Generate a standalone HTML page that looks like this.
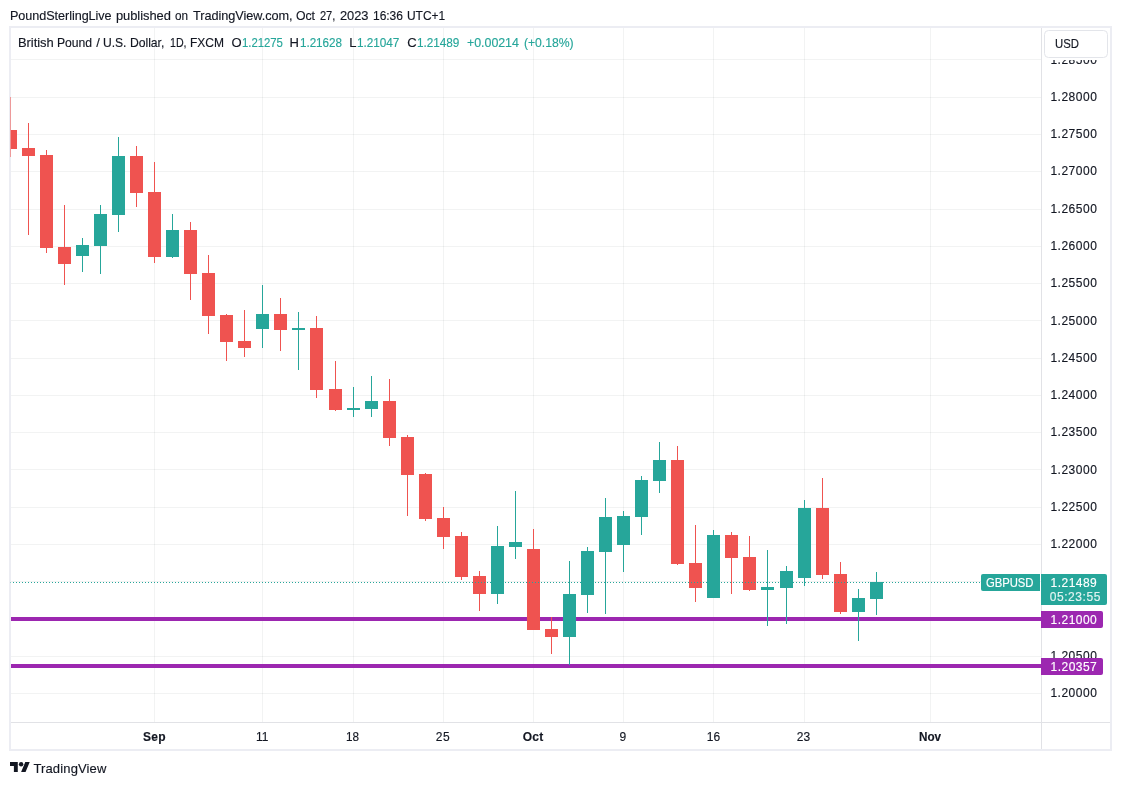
<!DOCTYPE html>
<html><head><meta charset="utf-8"><title>GBPUSD</title>
<style>
html,body{margin:0;padding:0;background:#fff;}
body{width:1121px;height:785px;position:relative;overflow:hidden;font-family:"Liberation Sans",sans-serif;color:#131722;}
.abs{position:absolute;white-space:nowrap;}
.w{position:absolute;white-space:nowrap;line-height:16px;transform-origin:0 0;-webkit-text-stroke:0.15px;}
#frame{left:9px;top:26px;width:1099px;height:721px;border:2px solid #ecedf3;}
#clip{left:10px;top:28px;width:1100px;height:721px;overflow:hidden;}
#svg{position:absolute;left:-10px;top:-28px;}
#paxis{left:1041px;top:28px;width:1px;height:721px;background:#e1e2e6;}
#taxis{left:11px;top:722px;width:1099px;height:1px;background:#e1e2e6;}
#usd{left:1044.4px;top:30.2px;width:61.2px;height:25.5px;border:1px solid #e3e5ea;border-radius:4.5px;background:#fff;}
#usdbg{left:1042px;top:28px;width:68px;height:32.4px;background:#fff;}
.tag{position:absolute;}
#logo{left:10px;top:762px;}
</style></head><body>
<div id="clip" class="abs"><svg id="svg" width="1121" height="785" viewBox="0 0 1121 785" shape-rendering="crispEdges">
<rect x="11" y="693" width="1030" height="1" fill="rgba(42,46,57,0.06)"/>
<rect x="11" y="656" width="1030" height="1" fill="rgba(42,46,57,0.06)"/>
<rect x="11" y="619" width="1030" height="1" fill="rgba(42,46,57,0.06)"/>
<rect x="11" y="581" width="1030" height="1" fill="rgba(42,46,57,0.06)"/>
<rect x="11" y="544" width="1030" height="1" fill="rgba(42,46,57,0.06)"/>
<rect x="11" y="507" width="1030" height="1" fill="rgba(42,46,57,0.06)"/>
<rect x="11" y="469" width="1030" height="1" fill="rgba(42,46,57,0.06)"/>
<rect x="11" y="432" width="1030" height="1" fill="rgba(42,46,57,0.06)"/>
<rect x="11" y="395" width="1030" height="1" fill="rgba(42,46,57,0.06)"/>
<rect x="11" y="358" width="1030" height="1" fill="rgba(42,46,57,0.06)"/>
<rect x="11" y="320" width="1030" height="1" fill="rgba(42,46,57,0.06)"/>
<rect x="11" y="283" width="1030" height="1" fill="rgba(42,46,57,0.06)"/>
<rect x="11" y="246" width="1030" height="1" fill="rgba(42,46,57,0.06)"/>
<rect x="11" y="209" width="1030" height="1" fill="rgba(42,46,57,0.06)"/>
<rect x="11" y="171" width="1030" height="1" fill="rgba(42,46,57,0.06)"/>
<rect x="11" y="134" width="1030" height="1" fill="rgba(42,46,57,0.06)"/>
<rect x="11" y="97" width="1030" height="1" fill="rgba(42,46,57,0.06)"/>
<rect x="11" y="59" width="1030" height="1" fill="rgba(42,46,57,0.06)"/>
<rect x="154" y="28" width="1" height="694" fill="rgba(42,46,57,0.06)"/>
<rect x="262" y="28" width="1" height="694" fill="rgba(42,46,57,0.06)"/>
<rect x="353" y="28" width="1" height="694" fill="rgba(42,46,57,0.06)"/>
<rect x="443" y="28" width="1" height="694" fill="rgba(42,46,57,0.06)"/>
<rect x="533" y="28" width="1" height="694" fill="rgba(42,46,57,0.06)"/>
<rect x="623" y="28" width="1" height="694" fill="rgba(42,46,57,0.06)"/>
<rect x="713" y="28" width="1" height="694" fill="rgba(42,46,57,0.06)"/>
<rect x="804" y="28" width="1" height="694" fill="rgba(42,46,57,0.06)"/>
<rect x="930" y="28" width="1" height="694" fill="rgba(42,46,57,0.06)"/>
<rect x="11" y="617" width="1031" height="4" fill="#9c27b0"/>
<rect x="11" y="664" width="1031" height="4" fill="#9c27b0"/>
<rect x="10" y="97" width="1" height="60" fill="#ef5350"/>
<rect x="4" y="130" width="13" height="19" fill="#ef5350"/>
<rect x="28" y="123" width="1" height="112" fill="#ef5350"/>
<rect x="22" y="148" width="13" height="8" fill="#ef5350"/>
<rect x="46" y="150" width="1" height="103" fill="#ef5350"/>
<rect x="40" y="155" width="13" height="93" fill="#ef5350"/>
<rect x="64" y="205" width="1" height="80" fill="#ef5350"/>
<rect x="58" y="247" width="13" height="17" fill="#ef5350"/>
<rect x="82" y="238" width="1" height="34" fill="#26a69a"/>
<rect x="76" y="245" width="13" height="11" fill="#26a69a"/>
<rect x="100" y="205" width="1" height="69" fill="#26a69a"/>
<rect x="94" y="214" width="13" height="32" fill="#26a69a"/>
<rect x="118" y="137" width="1" height="95" fill="#26a69a"/>
<rect x="112" y="156" width="13" height="59" fill="#26a69a"/>
<rect x="136" y="146" width="1" height="61" fill="#ef5350"/>
<rect x="130" y="156" width="13" height="37" fill="#ef5350"/>
<rect x="154" y="162" width="1" height="101" fill="#ef5350"/>
<rect x="148" y="192" width="13" height="65" fill="#ef5350"/>
<rect x="172" y="214" width="1" height="44" fill="#26a69a"/>
<rect x="166" y="230" width="13" height="27" fill="#26a69a"/>
<rect x="190" y="222" width="1" height="78" fill="#ef5350"/>
<rect x="184" y="230" width="13" height="44" fill="#ef5350"/>
<rect x="208" y="255" width="1" height="79" fill="#ef5350"/>
<rect x="202" y="273" width="13" height="43" fill="#ef5350"/>
<rect x="226" y="314" width="1" height="47" fill="#ef5350"/>
<rect x="220" y="315" width="13" height="27" fill="#ef5350"/>
<rect x="244" y="310" width="1" height="47" fill="#ef5350"/>
<rect x="238" y="341" width="13" height="7" fill="#ef5350"/>
<rect x="262" y="285" width="1" height="63" fill="#26a69a"/>
<rect x="256" y="314" width="13" height="15" fill="#26a69a"/>
<rect x="280" y="298" width="1" height="53" fill="#ef5350"/>
<rect x="274" y="314" width="13" height="16" fill="#ef5350"/>
<rect x="298" y="312" width="1" height="58" fill="#26a69a"/>
<rect x="292" y="328" width="13" height="2" fill="#26a69a"/>
<rect x="316" y="316" width="1" height="82" fill="#ef5350"/>
<rect x="310" y="328" width="13" height="62" fill="#ef5350"/>
<rect x="335" y="361" width="1" height="50" fill="#ef5350"/>
<rect x="329" y="389" width="13" height="21" fill="#ef5350"/>
<rect x="353" y="387" width="1" height="30" fill="#26a69a"/>
<rect x="347" y="408" width="13" height="2" fill="#26a69a"/>
<rect x="371" y="376" width="1" height="41" fill="#26a69a"/>
<rect x="365" y="401" width="13" height="8" fill="#26a69a"/>
<rect x="389" y="379" width="1" height="67" fill="#ef5350"/>
<rect x="383" y="401" width="13" height="37" fill="#ef5350"/>
<rect x="407" y="435" width="1" height="81" fill="#ef5350"/>
<rect x="401" y="437" width="13" height="38" fill="#ef5350"/>
<rect x="425" y="473" width="1" height="48" fill="#ef5350"/>
<rect x="419" y="474" width="13" height="45" fill="#ef5350"/>
<rect x="443" y="507" width="1" height="42" fill="#ef5350"/>
<rect x="437" y="518" width="13" height="19" fill="#ef5350"/>
<rect x="461" y="532" width="1" height="48" fill="#ef5350"/>
<rect x="455" y="536" width="13" height="41" fill="#ef5350"/>
<rect x="479" y="571" width="1" height="40" fill="#ef5350"/>
<rect x="473" y="576" width="13" height="18" fill="#ef5350"/>
<rect x="497" y="526" width="1" height="78" fill="#26a69a"/>
<rect x="491" y="546" width="13" height="48" fill="#26a69a"/>
<rect x="515" y="491" width="1" height="68" fill="#26a69a"/>
<rect x="509" y="542" width="13" height="5" fill="#26a69a"/>
<rect x="533" y="529" width="1" height="101" fill="#ef5350"/>
<rect x="527" y="549" width="13" height="81" fill="#ef5350"/>
<rect x="551" y="617" width="1" height="37" fill="#ef5350"/>
<rect x="545" y="629" width="13" height="8" fill="#ef5350"/>
<rect x="569" y="561" width="1" height="104" fill="#26a69a"/>
<rect x="563" y="594" width="13" height="43" fill="#26a69a"/>
<rect x="587" y="547" width="1" height="66" fill="#26a69a"/>
<rect x="581" y="551" width="13" height="44" fill="#26a69a"/>
<rect x="605" y="498" width="1" height="116" fill="#26a69a"/>
<rect x="599" y="517" width="13" height="35" fill="#26a69a"/>
<rect x="623" y="511" width="1" height="61" fill="#26a69a"/>
<rect x="617" y="516" width="13" height="29" fill="#26a69a"/>
<rect x="641" y="476" width="1" height="59" fill="#26a69a"/>
<rect x="635" y="480" width="13" height="37" fill="#26a69a"/>
<rect x="659" y="442" width="1" height="51" fill="#26a69a"/>
<rect x="653" y="460" width="13" height="21" fill="#26a69a"/>
<rect x="677" y="446" width="1" height="119" fill="#ef5350"/>
<rect x="671" y="460" width="13" height="104" fill="#ef5350"/>
<rect x="695" y="525" width="1" height="77" fill="#ef5350"/>
<rect x="689" y="563" width="13" height="25" fill="#ef5350"/>
<rect x="713" y="530" width="1" height="68" fill="#26a69a"/>
<rect x="707" y="535" width="13" height="63" fill="#26a69a"/>
<rect x="731" y="532" width="1" height="62" fill="#ef5350"/>
<rect x="725" y="535" width="13" height="23" fill="#ef5350"/>
<rect x="749" y="536" width="1" height="55" fill="#ef5350"/>
<rect x="743" y="557" width="13" height="33" fill="#ef5350"/>
<rect x="767" y="550" width="1" height="76" fill="#26a69a"/>
<rect x="761" y="587" width="13" height="3" fill="#26a69a"/>
<rect x="786" y="566" width="1" height="58" fill="#26a69a"/>
<rect x="780" y="571" width="13" height="17" fill="#26a69a"/>
<rect x="804" y="500" width="1" height="86" fill="#26a69a"/>
<rect x="798" y="508" width="13" height="70" fill="#26a69a"/>
<rect x="822" y="478" width="1" height="101" fill="#ef5350"/>
<rect x="816" y="508" width="13" height="67" fill="#ef5350"/>
<rect x="840" y="562" width="1" height="52" fill="#ef5350"/>
<rect x="834" y="574" width="13" height="38" fill="#ef5350"/>
<rect x="858" y="589" width="1" height="52" fill="#26a69a"/>
<rect x="852" y="598" width="13" height="14" fill="#26a69a"/>
<rect x="876" y="572" width="1" height="43" fill="#26a69a"/>
<rect x="870" y="582" width="13" height="17" fill="#26a69a"/>
<line x1="13" y1="582.5" x2="981" y2="582.5" stroke="#26a69a" stroke-width="1" stroke-dasharray="1 2"/>
</svg></div>
<div id="frame" class="abs"></div>
<div class="abs" style="left:10px;top:97px;width:1px;height:60px;background:rgba(239,83,80,0.55)"></div>
<div class="abs" style="left:10px;top:582px;width:1px;height:1px;background:rgba(38,166,154,0.5)"></div>
<div id="paxis" class="abs"></div>
<div id="taxis" class="abs"></div>
<div id="pwrap" class="abs" style="left:0;top:28px;width:1110px;height:694px;overflow:hidden;will-change:transform"><div style="position:absolute;left:0;top:-28px">
<span class="w" style="left:1050.40px;top:684.74px;font-size:12px;letter-spacing:0.516px;color:#131722;">1.20000</span>
<span class="w" style="left:1050.40px;top:647.74px;font-size:12px;letter-spacing:0.516px;color:#131722;">1.20500</span>
<span class="w" style="left:1050.40px;top:610.74px;font-size:12px;letter-spacing:0.516px;color:#131722;">1.21000</span>
<span class="w" style="left:1050.40px;top:572.74px;font-size:12px;letter-spacing:0.516px;color:#131722;">1.21500</span>
<span class="w" style="left:1050.40px;top:535.74px;font-size:12px;letter-spacing:0.516px;color:#131722;">1.22000</span>
<span class="w" style="left:1050.40px;top:498.74px;font-size:12px;letter-spacing:0.516px;color:#131722;">1.22500</span>
<span class="w" style="left:1050.40px;top:461.74px;font-size:12px;letter-spacing:0.516px;color:#131722;">1.23000</span>
<span class="w" style="left:1050.40px;top:423.74px;font-size:12px;letter-spacing:0.516px;color:#131722;">1.23500</span>
<span class="w" style="left:1050.40px;top:386.74px;font-size:12px;letter-spacing:0.516px;color:#131722;">1.24000</span>
<span class="w" style="left:1050.40px;top:349.74px;font-size:12px;letter-spacing:0.516px;color:#131722;">1.24500</span>
<span class="w" style="left:1050.40px;top:312.74px;font-size:12px;letter-spacing:0.516px;color:#131722;">1.25000</span>
<span class="w" style="left:1050.40px;top:274.74px;font-size:12px;letter-spacing:0.516px;color:#131722;">1.25500</span>
<span class="w" style="left:1050.40px;top:237.74px;font-size:12px;letter-spacing:0.516px;color:#131722;">1.26000</span>
<span class="w" style="left:1050.40px;top:200.74px;font-size:12px;letter-spacing:0.516px;color:#131722;">1.26500</span>
<span class="w" style="left:1050.40px;top:162.74px;font-size:12px;letter-spacing:0.516px;color:#131722;">1.27000</span>
<span class="w" style="left:1050.40px;top:125.74px;font-size:12px;letter-spacing:0.516px;color:#131722;">1.27500</span>
<span class="w" style="left:1050.40px;top:88.74px;font-size:12px;letter-spacing:0.516px;color:#131722;">1.28000</span>
<span class="w" style="left:1050.40px;top:51.74px;font-size:12px;letter-spacing:0.516px;color:#131722;">1.28500</span>
</div></div>
<div id="usdbg" class="abs"></div>
<div id="usd" class="abs"></div>
<div class="tag" style="left:981px;top:574px;width:59px;height:17px;background:#26a69a;border-radius:2px 0 0 2px;"></div>
<div class="tag" style="left:1041px;top:574px;width:66px;height:31px;background:#26a69a;border-radius:0 2px 2px 0;"></div>
<div class="tag" style="left:1041px;top:611px;width:62px;height:17px;background:#9c27b0;border-radius:0 2px 2px 0;"></div>
<div class="tag" style="left:1041px;top:658px;width:62px;height:17px;background:#9c27b0;border-radius:0 2px 2px 0;"></div>
<div id="txt" class="abs" style="left:0;top:0;width:1121px;height:785px;will-change:transform">
<span class="w" style="left:985.90px;top:574.74px;font-size:12px;letter-spacing:-0.050px;color:#fff;transform:scaleX(0.9417);">GBPUSD</span>
<span class="w" style="left:1050.60px;top:574.74px;font-size:12px;letter-spacing:0.466px;color:#fff;">1.21489</span>
<span class="w" style="left:1049.70px;top:588.74px;font-size:12px;letter-spacing:0.580px;color:rgba(255,255,255,0.85);">05:23:55</span>
<span class="w" style="left:1050.60px;top:611.64px;font-size:12px;letter-spacing:0.466px;color:#fff;">1.21000</span>
<span class="w" style="left:1050.60px;top:658.54px;font-size:12px;letter-spacing:0.466px;color:#fff;">1.20357</span>
<span class="w" style="left:9.93px;top:7.80px;font-size:13px;letter-spacing:-0.050px;color:#131722;transform:scaleX(0.9702);">PoundSterlingLive</span>
<span class="w" style="left:115.90px;top:7.80px;font-size:13px;letter-spacing:-0.050px;color:#131722;transform:scaleX(0.9923);">published</span>
<span class="w" style="left:175.30px;top:7.80px;font-size:13px;letter-spacing:-0.050px;color:#131722;transform:scaleX(0.9027);">on</span>
<span class="w" style="left:192.70px;top:7.80px;font-size:13px;letter-spacing:-0.050px;color:#131722;transform:scaleX(0.9779);">TradingView.com,</span>
<span class="w" style="left:295.60px;top:7.80px;font-size:13px;letter-spacing:-0.050px;color:#131722;transform:scaleX(0.9458);">Oct</span>
<span class="w" style="left:319.80px;top:7.80px;font-size:13px;letter-spacing:-0.050px;color:#131722;transform:scaleX(0.8525);">27,</span>
<span class="w" style="left:339.70px;top:7.80px;font-size:13px;letter-spacing:-0.050px;color:#131722;transform:scaleX(0.9916);">2023</span>
<span class="w" style="left:373.10px;top:7.80px;font-size:13px;letter-spacing:-0.050px;color:#131722;transform:scaleX(0.9252);">16:36</span>
<span class="w" style="left:406.68px;top:7.80px;font-size:13px;letter-spacing:-0.050px;color:#131722;transform:scaleX(0.9225);">UTC+1</span>
<span class="w" style="left:17.91px;top:34.50px;font-size:13px;letter-spacing:-0.050px;color:#131722;transform:scaleX(0.9946);">British</span>
<span class="w" style="left:57.26px;top:34.50px;font-size:13px;letter-spacing:-0.050px;color:#131722;transform:scaleX(0.9375);">Pound</span>
<span class="w" style="left:96.20px;top:34.50px;font-size:13px;letter-spacing:0.000px;color:#131722;">/</span>
<span class="w" style="left:103.47px;top:34.50px;font-size:13px;letter-spacing:-0.050px;color:#131722;transform:scaleX(0.9311);">U.S.</span>
<span class="w" style="left:130.16px;top:34.50px;font-size:13px;letter-spacing:-0.050px;color:#131722;transform:scaleX(0.9389);">Dollar,</span>
<span class="w" style="left:170.00px;top:34.50px;font-size:13px;letter-spacing:-0.050px;color:#131722;transform:scaleX(0.8197);">1D,</span>
<span class="w" style="left:190.28px;top:34.50px;font-size:13px;letter-spacing:-0.050px;color:#131722;transform:scaleX(0.9240);">FXCM</span>
<span class="w" style="left:231.40px;top:34.50px;font-size:13px;letter-spacing:0.000px;color:#131722;">O</span>
<span class="w" style="left:241.50px;top:34.50px;font-size:13px;letter-spacing:-0.050px;color:#26a69a;transform:scaleX(0.8760);">1.21275</span>
<span class="w" style="left:289.50px;top:34.50px;font-size:13px;letter-spacing:0.000px;color:#131722;">H</span>
<span class="w" style="left:300.10px;top:34.50px;font-size:13px;letter-spacing:-0.050px;color:#26a69a;transform:scaleX(0.8997);">1.21628</span>
<span class="w" style="left:349.20px;top:34.50px;font-size:13px;letter-spacing:0.000px;color:#131722;">L</span>
<span class="w" style="left:357.10px;top:34.50px;font-size:13px;letter-spacing:-0.050px;color:#26a69a;transform:scaleX(0.9061);">1.21047</span>
<span class="w" style="left:407.20px;top:34.50px;font-size:13px;letter-spacing:0.000px;color:#131722;">C</span>
<span class="w" style="left:416.50px;top:34.50px;font-size:13px;letter-spacing:-0.050px;color:#26a69a;transform:scaleX(0.9061);">1.21489</span>
<span class="w" style="left:467.10px;top:34.50px;font-size:13px;letter-spacing:-0.050px;color:#26a69a;transform:scaleX(0.9573);">+0.00214</span>
<span class="w" style="left:524.10px;top:34.50px;font-size:13px;letter-spacing:-0.050px;color:#26a69a;transform:scaleX(0.9403);">(+0.18%)</span>
<span class="w" style="left:142.90px;top:728.54px;font-size:12px;letter-spacing:0.361px;color:#131722;font-weight:bold;">Sep</span>
<span class="w" style="left:256.00px;top:728.54px;font-size:12px;letter-spacing:-0.050px;color:#131722;transform:scaleX(0.9974);">11</span>
<span class="w" style="left:346.10px;top:728.54px;font-size:12px;letter-spacing:-0.050px;color:#131722;transform:scaleX(0.9762);">18</span>
<span class="w" style="left:435.80px;top:728.54px;font-size:12px;letter-spacing:0.626px;color:#131722;">25</span>
<span class="w" style="left:522.70px;top:728.54px;font-size:12px;letter-spacing:0.246px;color:#131722;font-weight:bold;">Oct</span>
<span class="w" style="left:619.60px;top:728.54px;font-size:12px;letter-spacing:0.000px;color:#131722;">9</span>
<span class="w" style="left:706.70px;top:728.54px;font-size:12px;letter-spacing:0.126px;color:#131722;">16</span>
<span class="w" style="left:796.80px;top:728.54px;font-size:12px;letter-spacing:0.126px;color:#131722;">23</span>
<span class="w" style="left:919.00px;top:728.54px;font-size:12px;letter-spacing:-0.050px;color:#131722;transform:scaleX(0.9740);font-weight:bold;">Nov</span>
<span class="w" style="left:1054.80px;top:35.84px;font-size:12px;letter-spacing:-0.050px;color:#131722;transform:scaleX(0.9464);">USD</span>
<span class="w" style="left:33.40px;top:760.60px;font-size:13px;letter-spacing:0.145px;color:#131722;">TradingView</span>
</div>
<svg id="logo" class="abs" width="20" height="10" viewBox="0 4 36 18"><path d="M14 22H7V11H0V4h14v18zM28 22h-8l7.5-18h8L28 22z" fill="#131722"/><circle cx="20" cy="8" r="4" fill="#131722"/></svg>
</body></html>
